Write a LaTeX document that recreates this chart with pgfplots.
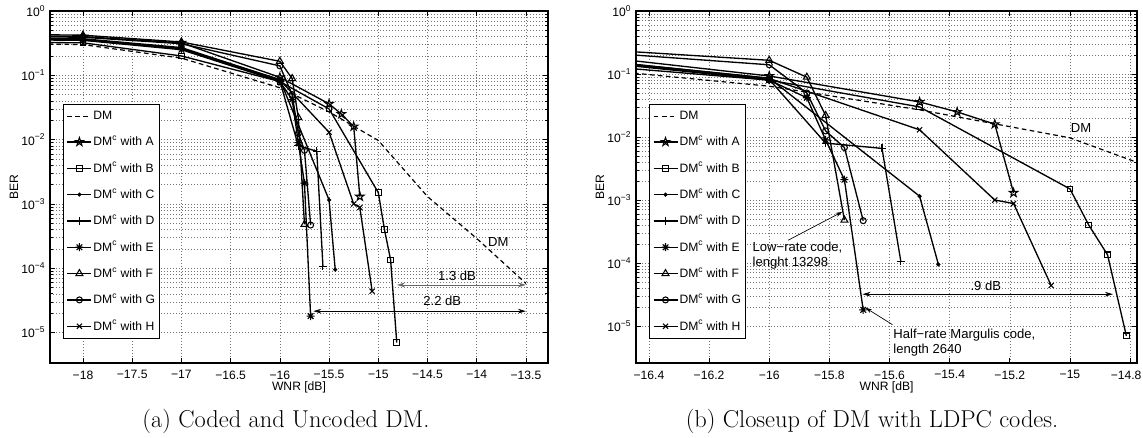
\documentclass[border=0pt]{standalone}
\usepackage{fontspec}
\newfontfamily\hv{Liberation Sans}
\usepackage{pgfplots}
\usepackage{pgfplotstable}
\pgfplotsset{compat=1.18}
\usetikzlibrary{arrows.meta}

\newcommand\pf{\hv\fontsize{9.1}{11}\selectfont}
\newcommand\af{\hv\fontsize{9.8}{11.25}\selectfont}

\pgfdeclareplotmark{pentagram}{%
  \pgfpathmoveto{\pgfpointpolar{90}{\pgfplotmarksize}}%
  \pgfpathlineto{\pgfpointpolar{126}{0.382\pgfplotmarksize}}%
  \pgfpathlineto{\pgfpointpolar{162}{\pgfplotmarksize}}%
  \pgfpathlineto{\pgfpointpolar{198}{0.382\pgfplotmarksize}}%
  \pgfpathlineto{\pgfpointpolar{234}{\pgfplotmarksize}}%
  \pgfpathlineto{\pgfpointpolar{270}{0.382\pgfplotmarksize}}%
  \pgfpathlineto{\pgfpointpolar{306}{\pgfplotmarksize}}%
  \pgfpathlineto{\pgfpointpolar{342}{0.382\pgfplotmarksize}}%
  \pgfpathlineto{\pgfpointpolar{18}{\pgfplotmarksize}}%
  \pgfpathlineto{\pgfpointpolar{54}{0.382\pgfplotmarksize}}%
  \pgfpathclose\pgfusepathqstroke}

\pgfdeclareplotmark{mstar}{%
  \pgfpathmoveto{\pgfpoint{-\pgfplotmarksize}{0pt}}\pgfpathlineto{\pgfpoint{\pgfplotmarksize}{0pt}}%
  \pgfpathmoveto{\pgfpoint{0pt}{-\pgfplotmarksize}}\pgfpathlineto{\pgfpoint{0pt}{\pgfplotmarksize}}%
  \pgfpathmoveto{\pgfpoint{-0.7071\pgfplotmarksize}{-0.7071\pgfplotmarksize}}\pgfpathlineto{\pgfpoint{0.7071\pgfplotmarksize}{0.7071\pgfplotmarksize}}%
  \pgfpathmoveto{\pgfpoint{-0.7071\pgfplotmarksize}{0.7071\pgfplotmarksize}}\pgfpathlineto{\pgfpoint{0.7071\pgfplotmarksize}{-0.7071\pgfplotmarksize}}%
  \pgfusepathqstroke}

\pgfplotstableread{
x y
-19 0.32
-18 0.30
-17 0.185
-16 0.064
-15.5 0.027
-15 0.0097
-14.5 0.0013
-14 0.00029
-13.5 0.000058
}\tDM
\pgfplotstableread{
x y
-19 0.42
-18 0.40
-17 0.32
-16 0.093
-15.5 0.036
-15.375 0.025
-15.25 0.016
-15.1875 0.0013
}\tA
\pgfplotstableread{
x y
-19 0.33
-18 0.32
-17 0.20
-16 0.080
-15.5 0.030
-15 0.0015
-14.9375 0.00040
-14.875 0.000135
-14.8125 0.000007
}\tB
\pgfplotstableread{
x y
-19 0.37
-18 0.36
-17 0.26
-16 0.086
-15.5 0.00115
-15.4375 0.000095
}\tC
\pgfplotstableread{
x y
-19 0.37
-18 0.355
-17 0.26
-16 0.082
-15.8125 0.0080
-15.625 0.0066
-15.5625 0.000107
}\tD
\pgfplotstableread{
x y
-19 0.36
-18 0.35
-17 0.25
-16 0.080
-15.875 0.042
-15.8125 0.009
-15.75 0.0021
-15.6875 0.000018
}\tE
\pgfplotstableread{
x y
-19 0.44
-18 0.42
-17 0.33
-16 0.165
-15.875 0.089
-15.8125 0.022
-15.75 0.00048
}\tF
\pgfplotstableread{
x y
-19 0.41
-18 0.39
-17 0.31
-16 0.14
-15.875 0.050
-15.8125 0.0125
-15.75 0.0068
-15.6875 0.00047
}\tG
\pgfplotstableread{
x y
-19 0.38
-18 0.37
-17 0.27
-16 0.085
-15.5 0.013
-15.25 0.0010
-15.1875 0.00088
-15.0625 0.000044
}\tH

\pgfplotsset{
  legend image code/.code={\draw[mark repeat=2,mark phase=2,#1] plot coordinates {(0pt,0pt) (9pt,0pt) (18pt,0pt)};},
}

\newcommand\allplots{%
  \addplot[black, line width=0.9pt, dash pattern=on 3.5pt off 2.5pt] table {\tDM};
  \addplot[black, line width=1pt, mark options={solid, line width=0.8pt}, mark=pentagram, mark size=3.3pt] table {\tA};
  \addplot[black, line width=1pt, mark options={solid, line width=0.8pt}, mark=square, mark size=2.1pt] table {\tB};
  \addplot[black, line width=1pt, mark options={solid, line width=0.8pt}, mark=*, mark size=1.1pt] table {\tC};
  \addplot[black, line width=1pt, mark options={solid, line width=0.8pt}, mark=+, mark size=3pt] table {\tD};
  \addplot[black, line width=1pt, mark options={solid, line width=0.8pt}, mark=mstar, mark size=3pt] table {\tE};
  \addplot[black, line width=1pt, mark options={solid, line width=0.8pt}, mark=triangle, mark size=3pt] table {\tF};
  \addplot[black, line width=1pt, mark options={solid, line width=0.8pt}, mark=o, mark size=2.25pt] table {\tG};
  \addplot[black, line width=1pt, mark options={solid, line width=0.8pt}, mark=x, mark size=2.7pt] table {\tH};
  \legend{DM, DM\textsuperscript{c} with A, DM\textsuperscript{c} with B, DM\textsuperscript{c} with C, DM\textsuperscript{c} with D, DM\textsuperscript{c} with E, DM\textsuperscript{c} with F, DM\textsuperscript{c} with G, DM\textsuperscript{c} with H}
}

\begin{document}
\begin{tikzpicture}
\useasboundingbox (0,0) rectangle (857.25pt,328.5pt);
\begin{axis}[at={(37.5pt,56.25pt)}, anchor=south west, width=373.5pt,
    scale only axis, height=264pt,
    ymode=log, ymax=1,
    axis line style={line width=0.8pt},
    tick align=inside,
    major tick length=4pt, minor tick length=2.2pt,
    every tick/.style={black, line width=0.5pt},
    grid=both,
    major grid style={black!55, line width=0.45pt, dash pattern=on 0.6pt off 1.65pt},
    minor grid style={black!55, line width=0.45pt, dash pattern=on 0.6pt off 1.65pt},
    ytick={1e-5,1e-4,1e-3,1e-2,1e-1,1},
    yticklabels={10\textsuperscript{−5},10\textsuperscript{−4},10\textsuperscript{−3},10\textsuperscript{−2},10\textsuperscript{−1},10\textsuperscript{0}},
    tick label style={font=\pf},
    xticklabel style={yshift=-2.2pt},
    xlabel={WNR [dB]}, ylabel={BER},
    xlabel style={font=\pf, at={(axis description cs:0.5,-0.068)}, anchor=center},
    ylabel style={font=\pf, at={(axis description cs:-0.0723,0.5)}, anchor=center},
    legend cell align=left,
    legend style={at={(0.026,0.736)}, anchor=north west, font=\pf, draw=black, line width=0.7pt, fill=white,
      inner xsep=2.5pt, inner ysep=3pt, row sep=7pt, nodes={inner xsep=1pt, inner ysep=2pt}},
  xmin=-18.335, xmax=-13.276, ymin=3.36e-6,
  xtick={-18,-17.5,-17,-16.5,-16,-15.5,-15,-14.5,-14,-13.5},
  xticklabels={−18,−17.5,−17,−16.5,−16,−15.5,−15,−14.5,−14,−13.5}]
\allplots
\node[font=\af] at (axis cs:-13.78,2.6e-4) {DM};
\draw[black!60, line width=0.6pt, {Stealth[length=6pt,width=3.5pt]}-{Stealth[length=6pt,width=3.5pt]}] (axis cs:-14.81,5.5e-5) -- (axis cs:-13.5,5.5e-5);
\node[font=\af] at (axis cs:-14.2,7.6e-5) {1.3 dB};
\draw[black, line width=0.6pt, {Stealth[length=6pt,width=3.5pt]}-{Stealth[length=6pt,width=3.5pt]}] (axis cs:-15.66,2.15e-5) -- (axis cs:-13.5,2.15e-5);
\node[font=\af] at (axis cs:-14.35,3.1e-5) {2.2 dB};
\end{axis}
\begin{axis}[at={(477pt,56.25pt)}, anchor=south west, width=375.75pt,
    scale only axis, height=264pt,
    ymode=log, ymax=1,
    axis line style={line width=0.8pt},
    tick align=inside,
    major tick length=4pt, minor tick length=2.2pt,
    every tick/.style={black, line width=0.5pt},
    grid=both,
    major grid style={black!55, line width=0.45pt, dash pattern=on 0.6pt off 1.65pt},
    minor grid style={black!55, line width=0.45pt, dash pattern=on 0.6pt off 1.65pt},
    ytick={1e-5,1e-4,1e-3,1e-2,1e-1,1},
    yticklabels={10\textsuperscript{−5},10\textsuperscript{−4},10\textsuperscript{−3},10\textsuperscript{−2},10\textsuperscript{−1},10\textsuperscript{0}},
    tick label style={font=\pf},
    xticklabel style={yshift=-2.2pt},
    xlabel={WNR [dB]}, ylabel={BER},
    xlabel style={font=\pf, at={(axis description cs:0.5,-0.068)}, anchor=center},
    ylabel style={font=\pf, at={(axis description cs:-0.0719,0.5)}, anchor=center},
    legend cell align=left,
    legend style={at={(0.026,0.736)}, anchor=north west, font=\pf, draw=black, line width=0.7pt, fill=white,
      inner xsep=2.5pt, inner ysep=3pt, row sep=7pt, nodes={inner xsep=1pt, inner ysep=2pt}},
  xmin=-16.443, xmax=-14.777, ymin=2.59e-6,
  xtick={-16.4,-16.2,-16,-15.8,-15.6,-15.4,-15.2,-15,-14.8},
  xticklabels={−16.4,−16.2,−16,−15.8,−15.6,−15.4,−15.2,−15,−14.8\hspace*{6pt}}]
\allplots
\node[font=\af] at (axis cs:-14.963,0.0139) {DM};
\draw[black, line width=0.6pt, {Stealth[length=6pt,width=3.5pt]}-{Stealth[length=6pt,width=3.5pt]}] (axis cs:-15.69,3.2e-5) -- (axis cs:-14.857,3.2e-5);
\node[font=\af] at (axis cs:-15.28,4.3e-5) {.9 dB};
\draw[black, line width=0.5pt, -{Stealth[length=5pt,width=3pt]}] (axis cs:-15.937,2.3e-4) -- (axis cs:-15.757,6.5e-4);
\node[font=\af, anchor=west, align=left, inner sep=0pt] at (axis cs:-16.056,1.32e-4) {Low−rate code,\\lenght 13298};
\draw[black, line width=0.5pt, -{Stealth[length=5pt,width=3pt]}] (axis cs:-15.59,1.05e-5) -- (axis cs:-15.68,1.95e-5);
\node[font=\af, anchor=west, align=left, inner sep=0pt] at (axis cs:-15.588,5.5e-6) {Half−rate Margulis code,\\length 2640};
\end{axis}
\node[anchor=base, inner sep=0pt, font=\fontsize{18.3}{22}\selectfont] at (214.5pt,7.5pt) {(a) Coded and Uncoded DM.};
\node[anchor=base, inner sep=0pt, font=\fontsize{18.3}{22}\selectfont] at (654pt,7.5pt) {(b) Closeup of DM with LDPC codes.};
\end{tikzpicture}
\end{document}
